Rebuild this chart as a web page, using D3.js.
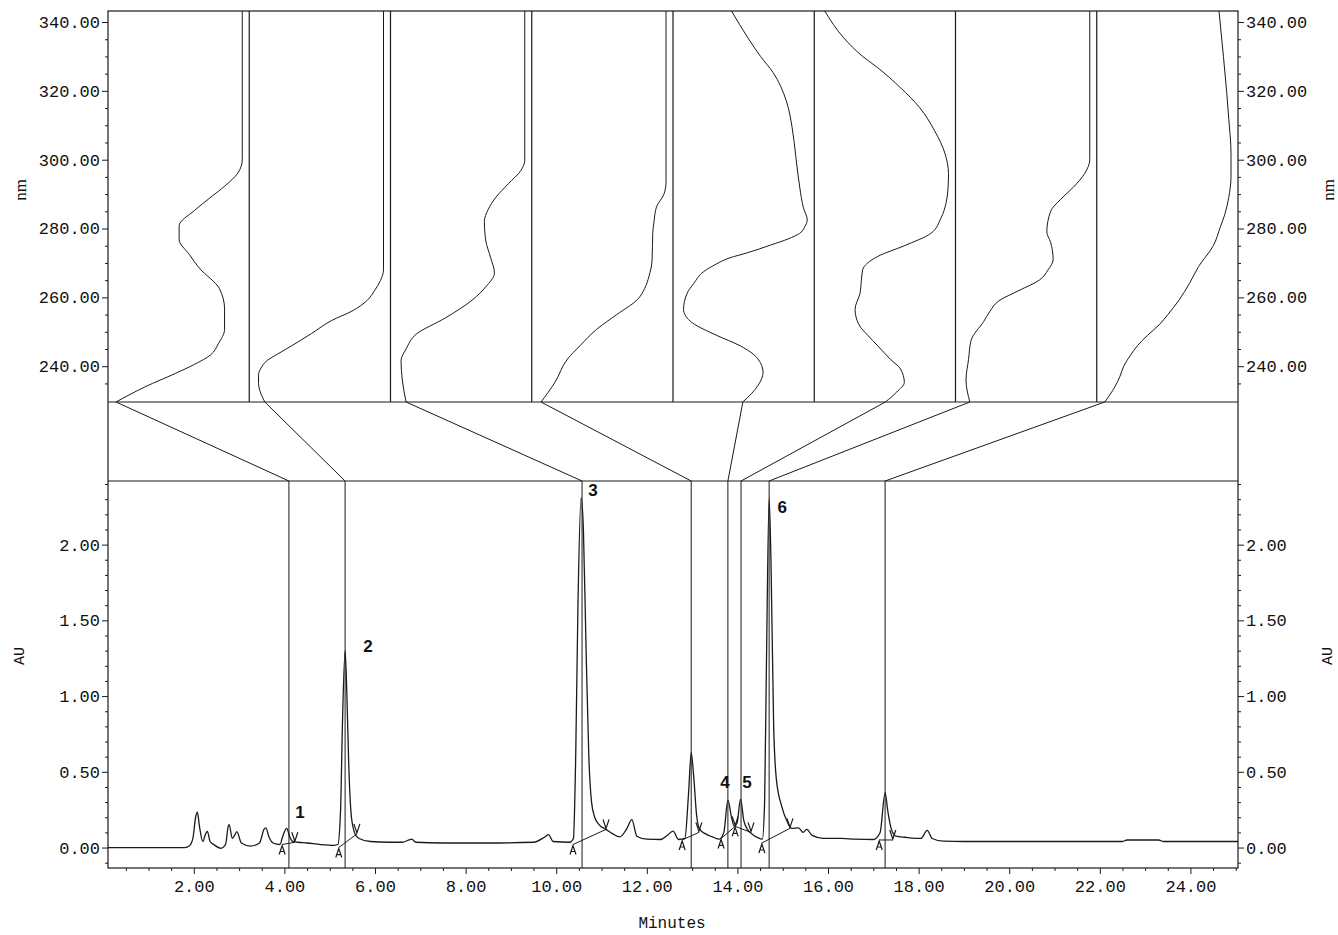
<!DOCTYPE html>
<html>
<head>
<meta charset="utf-8">
<script src="https://cdn.jsdelivr.net/npm/d3@7"></script>
<style>
  body { margin: 0; background: #fff; }
  svg { display: block; }
  text { font-family: "Liberation Mono", "Courier New", monospace; fill: #111; }
</style>
</head>
<body>
<svg width="1338" height="935"></svg>
<script>
// ---- data ----
var minuteTicks = [2, 4, 6, 8, 10, 12, 14, 16, 18, 20, 22, 24];
var nmTicks = [240, 260, 280, 300, 320, 340];
var auTicks = [0, 0.5, 1, 1.5, 2];

// chromatogram trace (minutes, AU)
var traceTime = [0.1, 1.8, 1.9, 1.98, 2.04, 2.08, 2.12, 2.2, 2.26, 2.3, 2.36, 2.44, 2.6, 2.7, 2.76, 2.78, 2.85, 2.9, 2.95, 3.05,
  3.25, 3.45, 3.55, 3.59, 3.66, 3.75, 3.9, 3.97, 4.05, 4.12, 4.18, 4.3, 4.5, 4.8, 5.1, 5.18, 5.24, 5.28, 5.34, 5.38,
  5.42, 5.48, 5.56, 5.65, 5.9, 6.3, 6.6, 6.75, 6.81, 6.9, 7.5, 8.5, 9.5, 9.75, 9.83, 9.93, 10.3, 10.38, 10.43, 10.48,
  10.55, 10.6, 10.66, 10.72, 10.78, 10.85, 10.95, 11.1, 11.25, 11.4, 11.55, 11.67, 11.78, 12.0, 12.3, 12.45, 12.58, 12.7, 12.84, 12.92,
  12.98, 13.04, 13.1, 13.17, 13.3, 13.45, 13.6, 13.7, 13.79, 13.87, 13.93, 13.99, 14.07, 14.14, 14.22, 14.32, 14.45, 14.55, 14.6, 14.64,
  14.7, 14.74, 14.8, 14.86, 14.98, 15.1, 15.2, 15.35, 15.45, 15.53, 15.65, 15.9, 16.3, 16.6, 17.0, 17.15, 17.26, 17.32, 17.39, 17.5,
  17.7, 18.05, 18.19, 18.3, 18.55, 19.0, 20.0, 21.0, 22.5, 22.6, 23.3, 23.4, 25.05];
var traceAU = [0.0, 0.0, 0.01, 0.06, 0.2, 0.233, 0.15, 0.04, 0.09, 0.107, 0.04, 0.02, -0.005, 0.02, 0.14, 0.152, 0.06, 0.08, 0.105, 0.03,
  0.01, 0.03, 0.12, 0.13, 0.07, 0.03, 0.02, 0.08, 0.127, 0.07, 0.04, 0.035, 0.03, 0.02, 0.015, 0.02, 0.25, 0.8, 1.3, 1.0,
  0.55, 0.2, 0.09, 0.06, 0.04, 0.035, 0.035, 0.05, 0.055, 0.035, 0.03, 0.03, 0.035, 0.07, 0.085, 0.04, 0.035, 0.06, 0.6, 1.6,
  2.31, 2.1, 1.3, 0.6, 0.3, 0.2, 0.15, 0.12, 0.09, 0.07, 0.12, 0.185, 0.075, 0.055, 0.053, 0.08, 0.108, 0.053, 0.06, 0.35,
  0.627, 0.45, 0.21, 0.12, 0.09, 0.07, 0.055, 0.1, 0.313, 0.2, 0.14, 0.16, 0.32, 0.18, 0.12, 0.09, 0.065, 0.055, 0.3, 1.2,
  2.3, 1.9, 0.8, 0.45, 0.27, 0.17, 0.127, 0.13, 0.1, 0.12, 0.08, 0.06, 0.06, 0.055, 0.053, 0.1, 0.363, 0.24, 0.13, 0.075,
  0.068, 0.06, 0.114, 0.06, 0.042, 0.04, 0.04, 0.04, 0.04, 0.05, 0.05, 0.04, 0.04];

// peaks with a stored spectrum, in panel order
var peakTimes = [4.10, 5.34, 10.57, 12.98, 13.79, 14.08, 14.70, 17.26];
var peakLabels = ["1", "2", "3", "", "4", "5", "6", ""];

// integration marks: start and end of each peak (minutes, AU)
var markStart = [[3.95, 0.02], [5.2, 0.0], [10.37, 0.02], [12.78, 0.05], [13.64, 0.06], [13.95, 0.14], [14.54, 0.03], [17.13, 0.05]];
var markEnd = [[4.23, 0.035], [5.6, 0.09], [11.1, 0.12], [13.15, 0.1], [13.95, 0.14], [14.3, 0.1], [15.16, 0.127], [17.43, 0.05]];

// UV spectra, one per peak: [nm, relative absorbance]
var spectra = [
  [[343.2, 0], [300, 0], [296.1, 0.035], [292.6, 0.13], [288.5, 0.27], [285.2, 0.38], [280.8, 0.5], [276.8, 0.5], [272.5, 0.42],
   [268.5, 0.34], [262.5, 0.18], [256.6, 0.14], [250.7, 0.14], [246.5, 0.19], [243.3, 0.25], [240.5, 0.38], [237.9, 0.53], [234, 0.77], [229.6, 1.0]],
  [[343.2, 0], [268, 0], [264.9, 0.024], [262, 0.07], [259.1, 0.13], [256, 0.25], [253.3, 0.41], [249.5, 0.57], [246.1, 0.72],
   [243.5, 0.84], [241.7, 0.92], [239.5, 0.97], [237.4, 0.99], [235, 0.99], [233, 0.98], [229.6, 0.94]],
  [[343.2, 0], [299.8, 0], [296.9, 0.03], [293, 0.13], [289.2, 0.226], [285.5, 0.29], [282, 0.32], [276.7, 0.31], [271.5, 0.27],
   [267.1, 0.24], [263, 0.31], [259.4, 0.41], [254, 0.63], [249.3, 0.86], [245, 0.94], [241.6, 0.98], [236, 0.97], [229.6, 0.94]],
  [[343.2, 0], [293.5, 0], [290.1, 0.015], [286.3, 0.075], [282, 0.095], [278.6, 0.105], [270.9, 0.11], [266.1, 0.135], [262.5, 0.17],
   [259.4, 0.225], [255, 0.39], [250.7, 0.55], [246, 0.68], [242.1, 0.78], [235.3, 0.88], [229.6, 0.99]],
  [[343.2, 0.6], [335.4, 0.47], [330, 0.37], [325.3, 0.27], [317.1, 0.166], [309.4, 0.12], [300.7, 0.09], [292.1, 0.06], [286, 0.03],
   [282.5, 0.0], [280.5, 0.02], [278.6, 0.06], [277, 0.15], [275.2, 0.29], [273, 0.47], [271.4, 0.62], [269.5, 0.73], [267.5, 0.82],
   [264, 0.9], [261.3, 0.95], [256.5, 0.98], [252.6, 0.91], [249, 0.72], [245.9, 0.53], [242.1, 0.39], [238.2, 0.35], [234.4, 0.39], [229.6, 0.51]],
  [[343.2, 0.98], [335.4, 0.83], [330, 0.68], [326.7, 0.56], [320.9, 0.38], [315.2, 0.23], [308.4, 0.11], [301.7, 0.027], [295.9, 0],
   [291, 0.005], [287.3, 0.02], [283, 0.06], [278.6, 0.14], [275, 0.35], [271.9, 0.56], [268, 0.68], [265, 0.69], [261.3, 0.7],
   [256.5, 0.74], [252.1, 0.71], [249, 0.64], [245.9, 0.56], [242, 0.46], [239.2, 0.38], [235.3, 0.35], [232.5, 0.41], [229.6, 0.5]],
  [[343.2, 0], [300, 0], [296, 0.04], [292, 0.13], [288.5, 0.23], [285, 0.31], [279, 0.34], [276, 0.31], [271, 0.29], [268, 0.33],
   [265, 0.4], [262, 0.56], [259, 0.72], [256, 0.79], [253, 0.84], [247.5, 0.94], [242, 0.96], [236, 0.98], [229.6, 0.95]],
  [[343.2, 0.095], [330, 0.06], [320, 0.035], [312, 0.018], [302, 0], [295, 0], [289, 0.018], [284, 0.05], [280.5, 0.084], [275, 0.14],
   [269, 0.256], [264, 0.33], [259.3, 0.41], [255, 0.5], [252, 0.57], [249, 0.66], [246, 0.74], [243, 0.8], [240, 0.85], [237, 0.88],
   [234, 0.92], [229.6, 1.0]]
];

// ---- layout ----
var svg = d3.select("svg");
var left = 108, right = 1238;
var specTop = 11, specBottom = 402, chromTop = 481, chromBottom = 868;
var ink = "#1a1a1a";

var x = d3.scaleLinear().domain([0.106, 25.05]).range([left, right]);
var yAU = d3.scaleLinear().domain([-0.135, 2.42]).range([chromBottom, chromTop]);
var yNm = d3.scaleLinear().domain([229.6, 343.2]).range([specBottom, specTop]);
var panel = d3.scaleBand().domain(d3.range(spectra.length)).range([left, right]);

function absScale(i) {
  var x0 = panel(i), w = panel.bandwidth();
  return d3.scaleLinear().domain([0, 1]).range([x0 + w - 7, x0 + 8]);
}

function line(x1, y1, x2, y2, sw) {
  svg.append("line").attr("x1", x1).attr("y1", y1).attr("x2", x2).attr("y2", y2)
    .attr("stroke", ink).attr("stroke-width", sw || 1);
}

// ---- frame ----
svg.append("rect").attr("x", left).attr("y", specTop).attr("width", right - left).attr("height", chromBottom - specTop)
  .attr("fill", "none").attr("stroke", ink).attr("stroke-width", 1.2);
line(left, specBottom, right, specBottom, 1.2);
line(left, chromTop, right, chromTop, 1.2);

// ---- axes ----
function styleAxis(g) {
  g.select(".domain").remove();
  g.selectAll("line").attr("stroke", ink);
  g.selectAll("text").attr("font-size", 17).attr("fill", "#111");
}
var f2 = d3.format(".2f");
var nmMinor = d3.range(235, 343, 5).filter(function (d) { return d % 20 !== 0; });
var auMinor = d3.range(-1, 25).map(function (d) { return d / 10; }).filter(function (d) { return Math.round(d * 10) % 5 !== 0; });
var minMinor = d3.range(1, 51).map(function (d) { return d / 2; }).filter(function (d) { return d % 2 !== 0; });

svg.append("g").attr("transform", "translate(" + left + ",0)")
  .call(d3.axisLeft(yNm).tickValues(nmTicks).tickFormat(f2).tickSize(6).tickPadding(2)).call(styleAxis);
svg.append("g").attr("transform", "translate(" + left + ",0)")
  .call(d3.axisLeft(yNm).tickValues(nmMinor).tickFormat("").tickSize(3)).call(styleAxis);
svg.append("g").attr("transform", "translate(" + right + ",0)")
  .call(d3.axisRight(yNm).tickValues(nmTicks).tickFormat(f2).tickSize(6).tickPadding(2)).call(styleAxis);
svg.append("g").attr("transform", "translate(" + right + ",0)")
  .call(d3.axisRight(yNm).tickValues(nmMinor).tickFormat("").tickSize(3)).call(styleAxis);

svg.append("g").attr("transform", "translate(" + left + ",0)")
  .call(d3.axisLeft(yAU).tickValues(auTicks).tickFormat(f2).tickSize(6).tickPadding(2)).call(styleAxis);
svg.append("g").attr("transform", "translate(" + left + ",0)")
  .call(d3.axisLeft(yAU).tickValues(auMinor).tickFormat("").tickSize(3)).call(styleAxis);
svg.append("g").attr("transform", "translate(" + right + ",0)")
  .call(d3.axisRight(yAU).tickValues(auTicks).tickFormat(f2).tickSize(6).tickPadding(2)).call(styleAxis);
svg.append("g").attr("transform", "translate(" + right + ",0)")
  .call(d3.axisRight(yAU).tickValues(auMinor).tickFormat("").tickSize(3)).call(styleAxis);

svg.append("g").attr("transform", "translate(0," + chromBottom + ")")
  .call(d3.axisBottom(x).tickValues(minuteTicks).tickFormat(f2).tickSize(6).tickPadding(6)).call(styleAxis);
svg.append("g").attr("transform", "translate(0," + chromBottom + ")")
  .call(d3.axisBottom(x).tickValues(minMinor).tickFormat("").tickSize(3)).call(styleAxis);

// axis titles
function vTitle(tx, ty, s, fam, size) {
  svg.append("text").attr("transform", "translate(" + tx + "," + ty + ") rotate(-90)")
    .attr("text-anchor", "middle").attr("dominant-baseline", "central")
    .attr("font-size", size).style("font-family", fam).text(s);
}
vTitle(20, 190, "nm", "'Liberation Serif', serif", 17);
vTitle(1328, 190, "nm", "'Liberation Serif', serif", 17);
vTitle(20, 656, "AU", "'Liberation Mono', monospace", 15);
vTitle(1328, 656, "AU", "'Liberation Mono', monospace", 15);
svg.append("text").attr("x", 672).attr("y", 924).attr("text-anchor", "middle")
  .attr("dominant-baseline", "central").attr("font-size", 16).text("Minutes");

// ---- spectra panels ----
panel.domain().slice(1).forEach(function (i) {
  line(panel(i), specTop, panel(i), specBottom, 1.2);
});
spectra.forEach(function (s, i) {
  var ax = absScale(i);
  svg.append("path").datum(s)
    .attr("d", d3.line().x(function (d) { return ax(d[1]); }).y(function (d) { return yNm(d[0]); }).curve(d3.curveMonotoneY))
    .attr("fill", "none").attr("stroke", ink).attr("stroke-width", 1);
  // connector from spectrum foot to its peak
  var foot = s[s.length - 1];
  line(ax(foot[1]), specBottom, x(peakTimes[i]), chromTop, 1);
  // peak marker line
  line(x(peakTimes[i]), chromTop, x(peakTimes[i]), chromBottom, 1);
});

// ---- chromatogram ----
var trace = traceTime.map(function (t, i) { return [t, traceAU[i]]; });
svg.append("path").datum(trace)
  .attr("d", d3.line().x(function (d) { return x(d[0]); }).y(function (d) { return yAU(d[1]); }).curve(d3.curveMonotoneX))
  .attr("fill", "none").attr("stroke", ink).attr("stroke-width", 1.3);

// integration baselines and tick marks
markStart.forEach(function (s, i) {
  var e = markEnd[i];
  var sx = x(s[0]), sy = yAU(s[1]), ex = x(e[0]), ey = yAU(e[1]);
  line(sx, sy, ex, ey, 1);
  svg.append("path").attr("d", "M" + (sx - 3) + "," + (sy + 10) + "L" + sx + "," + (sy + 1) + "L" + (sx + 3) + "," + (sy + 10)
      + "M" + (sx - 2) + "," + (sy + 7) + "L" + (sx + 2) + "," + (sy + 7))
    .attr("fill", "none").attr("stroke", ink).attr("stroke-width", 1.2);
  svg.append("path").attr("d", "M" + (ex - 3) + "," + (ey - 10) + "L" + ex + "," + (ey - 1) + "L" + (ex + 3) + "," + (ey - 10))
    .attr("fill", "none").attr("stroke", ink).attr("stroke-width", 1.2);
});

// peak number labels
var labelOffset = [[11, -16], [23, -4], [11, -7], null, [-3, -18], [6, -17], [13, 8], null];
peakTimes.forEach(function (t, i) {
  if (!peakLabels[i]) return;
  var top = d3.max(trace.filter(function (d) { return Math.abs(d[0] - t) < 0.1; }), function (d) { return d[1]; });
  svg.append("text").attr("x", x(t) + labelOffset[i][0]).attr("y", yAU(top) + labelOffset[i][1])
    .attr("text-anchor", "middle").attr("dominant-baseline", "central")
    .attr("font-size", 17).attr("font-weight", "bold").style("font-family", "'Liberation Sans', Arial, sans-serif")
    .text(peakLabels[i]);
});
</script>
</body>
</html>
